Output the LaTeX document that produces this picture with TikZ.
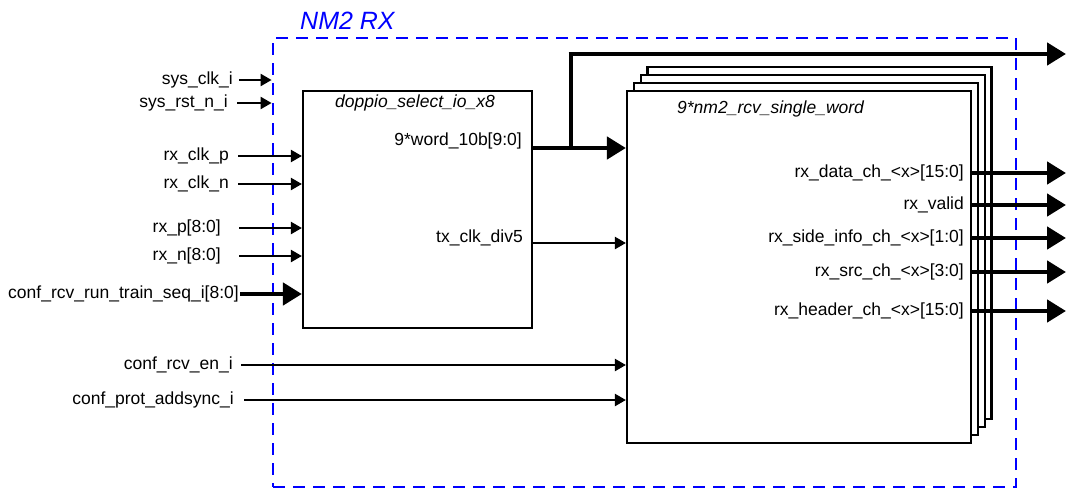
\documentclass[tikz,border=0pt]{standalone}
\usepackage{fontspec}
\setmainfont{Liberation Sans}
\usetikzlibrary{arrows.meta}
\begin{document}
\begin{tikzpicture}[x=1pt,y=-1pt,
  lbl/.style={font=\fontsize{17.5}{21}\selectfont, inner sep=0pt},
  inlbl/.style={lbl, anchor=east},
  ttl/.style={lbl, font=\fontsize{17.5}{21}\selectfont\itshape},
  thinarrow/.style={line width=2.2pt, -{Triangle[length=11pt,width=12pt]}},
  busarrow/.style={line width=4.6pt, -{Triangle[length=19pt,width=22pt]}},
  block/.style={draw, line width=2.2pt, fill=white, inner sep=0pt},
  frame/.style={draw=blue, line width=2.8pt, dash pattern=on 12pt off 8pt}]
\useasboundingbox (0,0) rectangle (1067,490);

% RX wrapper boundary
\node[frame, minimum width=743pt, minimum height=449pt, inner sep=0pt] (nm2) at (644.5,262.5) {};
\node[anchor=west, inner sep=0pt, text=blue, font=\fontsize{25}{30}\selectfont\itshape] (nm2title) at (300,21) {NM2 RX};

% I/O selector block
\node[block, minimum width=229pt, minimum height=237pt] (dsel) at (417.5,209.5) {};
\node[ttl] (dseltitle) at (415,103) {doppio\_select\_io\_x8};
\node[inlbl] (word) at (522,141) {9*word\_10b[9:0]};
\node[inlbl] (txclk) at (523,238) {tx\_clk\_div5};

% stacked word receivers (three copies behind the front one)
\foreach \k in {3,2,1} {
  \draw[block] (627+6.8*\k,91-8*\k) rectangle (971+6.8*\k,443-8*\k);
}
\node[block, minimum width=344pt, minimum height=352pt] (rcv) at (799,267) {};
\node[ttl, anchor=west] (rcvtitle) at (677,109) {9*nm2\_rcv\_single\_word};

% system inputs ending at the boundary
\node[inlbl] (sysclk) at (233,80) {sys\_clk\_i};
\node[inlbl] (sysrst) at (228,103) {sys\_rst\_n\_i};
\draw[thinarrow] ([xshift=6pt]sysclk.east) -- (sysclk.east -| nm2.west);
\draw[thinarrow] ([xshift=9pt]sysrst.east) -- (sysrst.east -| nm2.west);

% inputs of the I/O selector
\node[inlbl] (rxclkp) at (229,156) {rx\_clk\_p};
\node[inlbl] (rxclkn) at (229,184) {rx\_clk\_n};
\node[inlbl] (rxp) at (221,228) {rx\_p[8:0]};
\node[inlbl] (rxn) at (221,256) {rx\_n[8:0]};
\node[inlbl] (trainseq) at (239,294) {conf\_rcv\_run\_train\_seq\_i[8:0]};
\draw[thinarrow] ([xshift=9pt]rxclkp.east) -- (rxclkp.east -| dsel.west);
\draw[thinarrow] ([xshift=9pt]rxclkn.east) -- (rxclkn.east -| dsel.west);
\draw[thinarrow] ([xshift=18pt]rxp.east) -- (rxp.east -| dsel.west);
\draw[thinarrow] ([xshift=18pt]rxn.east) -- (rxn.east -| dsel.west);
\draw[busarrow] ([xshift=1pt]trainseq.east) -- (trainseq.east -| dsel.west);

% configuration inputs of the receivers
\node[inlbl] (rcven) at (233,365) {conf\_rcv\_en\_i};
\node[inlbl] (addsync) at (234,400) {conf\_prot\_addsync\_i};
\draw[thinarrow] ([xshift=8pt]rcven.east) -- (rcven.east -| rcv.west);
\draw[thinarrow] ([xshift=10pt]addsync.east) -- (addsync.east -| rcv.west);

% selector to receivers
\coordinate (tap) at (571,148);
\coordinate (wordout) at (1066,54);
\draw[busarrow] (dsel.east |- tap) -- (rcv.west |- tap);
\draw[line width=4.6pt] (tap) -- (tap |- 0,56.3);
\draw[busarrow] ([xshift=-2.3pt]tap |- wordout) -- (wordout);
\draw[thinarrow] (dsel.east |- 0,243) -- (rcv.west |- 0,243);

% receiver outputs
\node[inlbl] (rxdata) at (964,173) {rx\_data\_ch\_<x>[15:0]};
\node[inlbl] (rxvalid) at (964,205) {rx\_valid};
\node[inlbl] (rxside) at (964,238) {rx\_side\_info\_ch\_<x>[1:0]};
\node[inlbl] (rxsrc) at (964,272) {rx\_src\_ch\_<x>[3:0]};
\node[inlbl] (rxhdr) at (964,311) {rx\_header\_ch\_<x>[15:0]};
\foreach \n in {rxdata,rxvalid,rxside,rxsrc,rxhdr} {
  \coordinate (\n-out) at (1066,0 |- \n.east);
  \draw[busarrow] (\n.east -| rcv.east) -- (\n-out);
}
\end{tikzpicture}
\end{document}
